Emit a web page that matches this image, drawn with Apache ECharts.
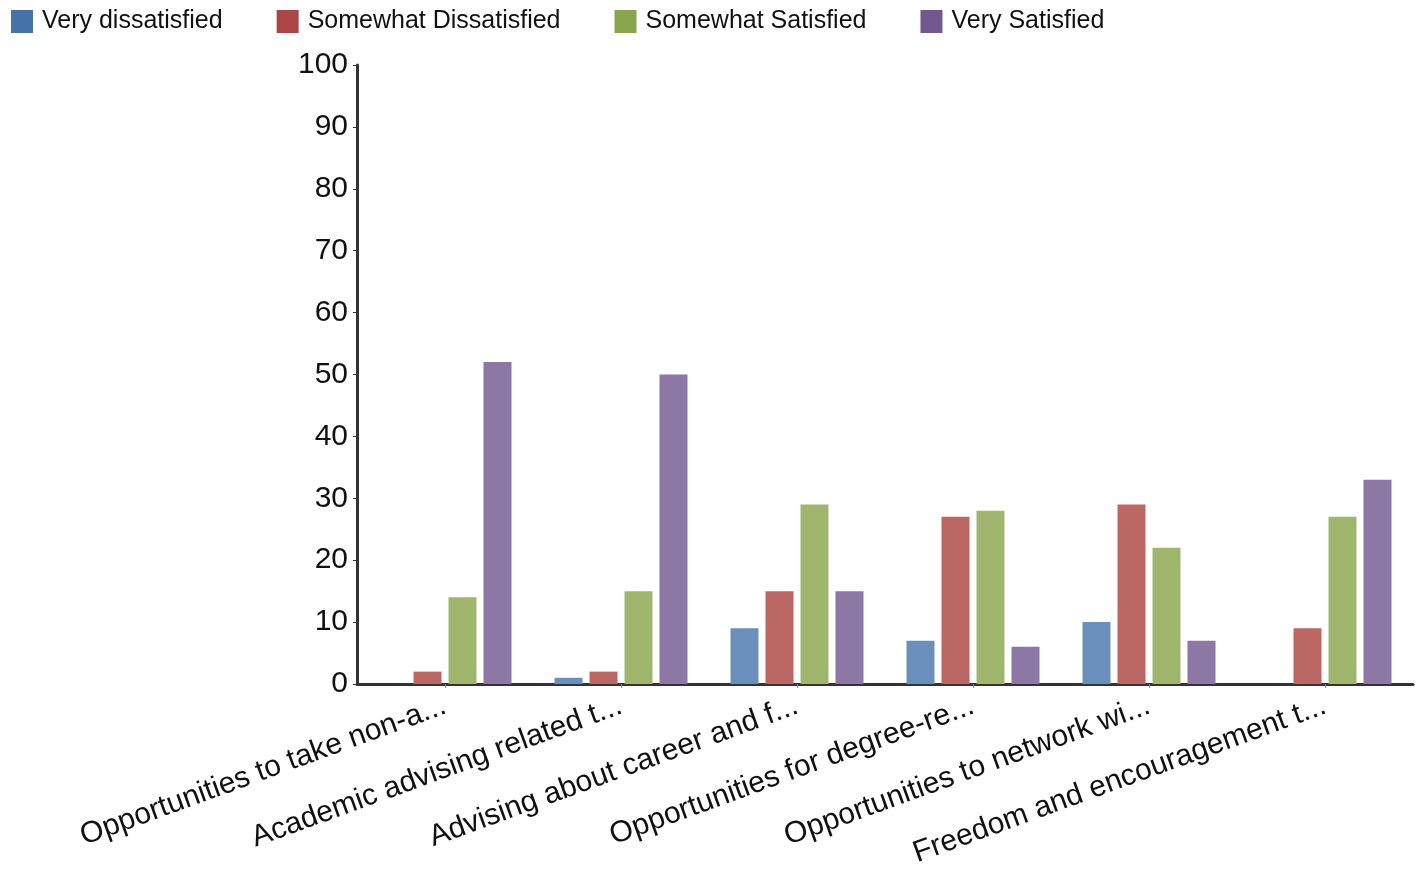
<!DOCTYPE html>
<html><head><meta charset="utf-8">
<script src="https://cdn.jsdelivr.net/npm/echarts@6/dist/echarts.min.js"></script>
<style>html,body{margin:0;padding:0;background:#fff}#c{width:1425px;height:873px}</style>
</head><body><div id="c"></div>
<script>
const categories = ["Opportunities to take non-a...", "Academic advising related t...", "Advising about career and f...", "Opportunities for degree-re...", "Opportunities to network wi...", "Freedom and encouragement t..."];
const seriesNames = ["Very dissatisfied", "Somewhat Dissatisfied", "Somewhat Satisfied", "Very Satisfied"];
const veryDissatisfied = [0, 1, 9, 7, 10, 0];
const somewhatDissatisfied = [2, 2, 15, 27, 29, 9];
const somewhatSatisfied = [14, 15, 29, 28, 22, 27];
const verySatisfied = [52, 50, 15, 6, 7, 33];
const yTicks = [0, 10, 20, 30, 40, 50, 60, 70, 80, 90, 100];

const legendColors = ["#4572A7", "#AA4643", "#89A54E", "#71588F"];
const barColors = ["#6a8fba", "#bb6864", "#a0b66f", "#8b78a5"];
const values = [veryDissatisfied, somewhatDissatisfied, somewhatSatisfied, verySatisfied];

const chart = echarts.init(document.getElementById('c'), null, {renderer: 'canvas'});
const font = 'Liberation Sans, Arial, sans-serif';
chart.setOption({
  animation: false,
  legend: {
    left: 6, top: 4, itemWidth: 22, itemHeight: 23, itemGap: 54,
    icon: 'rect',
    textStyle: {fontSize: 25, color: '#111', fontFamily: font, padding: [0, 0, 0, 4]},
    data: seriesNames.map((n, i) => ({name: n, itemStyle: {color: legendColors[i]}}))
  },
  grid: {left: 357, right: 12, top: 65, bottom: 189, containLabel: false},
  xAxis: {
    type: 'category', data: categories,
    axisLine: {lineStyle: {color: '#333', width: 3}},
    axisTick: {show: true, alignWithLabel: true, length: 4, lineStyle: {color: '#888', width: 1}},
    axisLabel: {rotate: 20, fontSize: 30, color: '#111', fontFamily: font, margin: 21, interval: 0}
  },
  yAxis: {
    type: 'value', min: yTicks[0], max: yTicks[yTicks.length - 1], interval: 10,
    axisLine: {show: true, lineStyle: {color: '#333', width: 3}},
    axisTick: {show: true, length: 4, lineStyle: {color: '#333', width: 1}},
    splitLine: {show: false},
    axisLabel: {fontSize: 30, color: '#111', fontFamily: font, margin: 9}
  },
  series: seriesNames.map((n, i) => ({
    name: n, type: 'bar', data: values[i], barWidth: 28, barGap: '25%',
    itemStyle: {color: barColors[i]},
    emphasis: {disabled: true}
  }))
});
</script></body></html>
